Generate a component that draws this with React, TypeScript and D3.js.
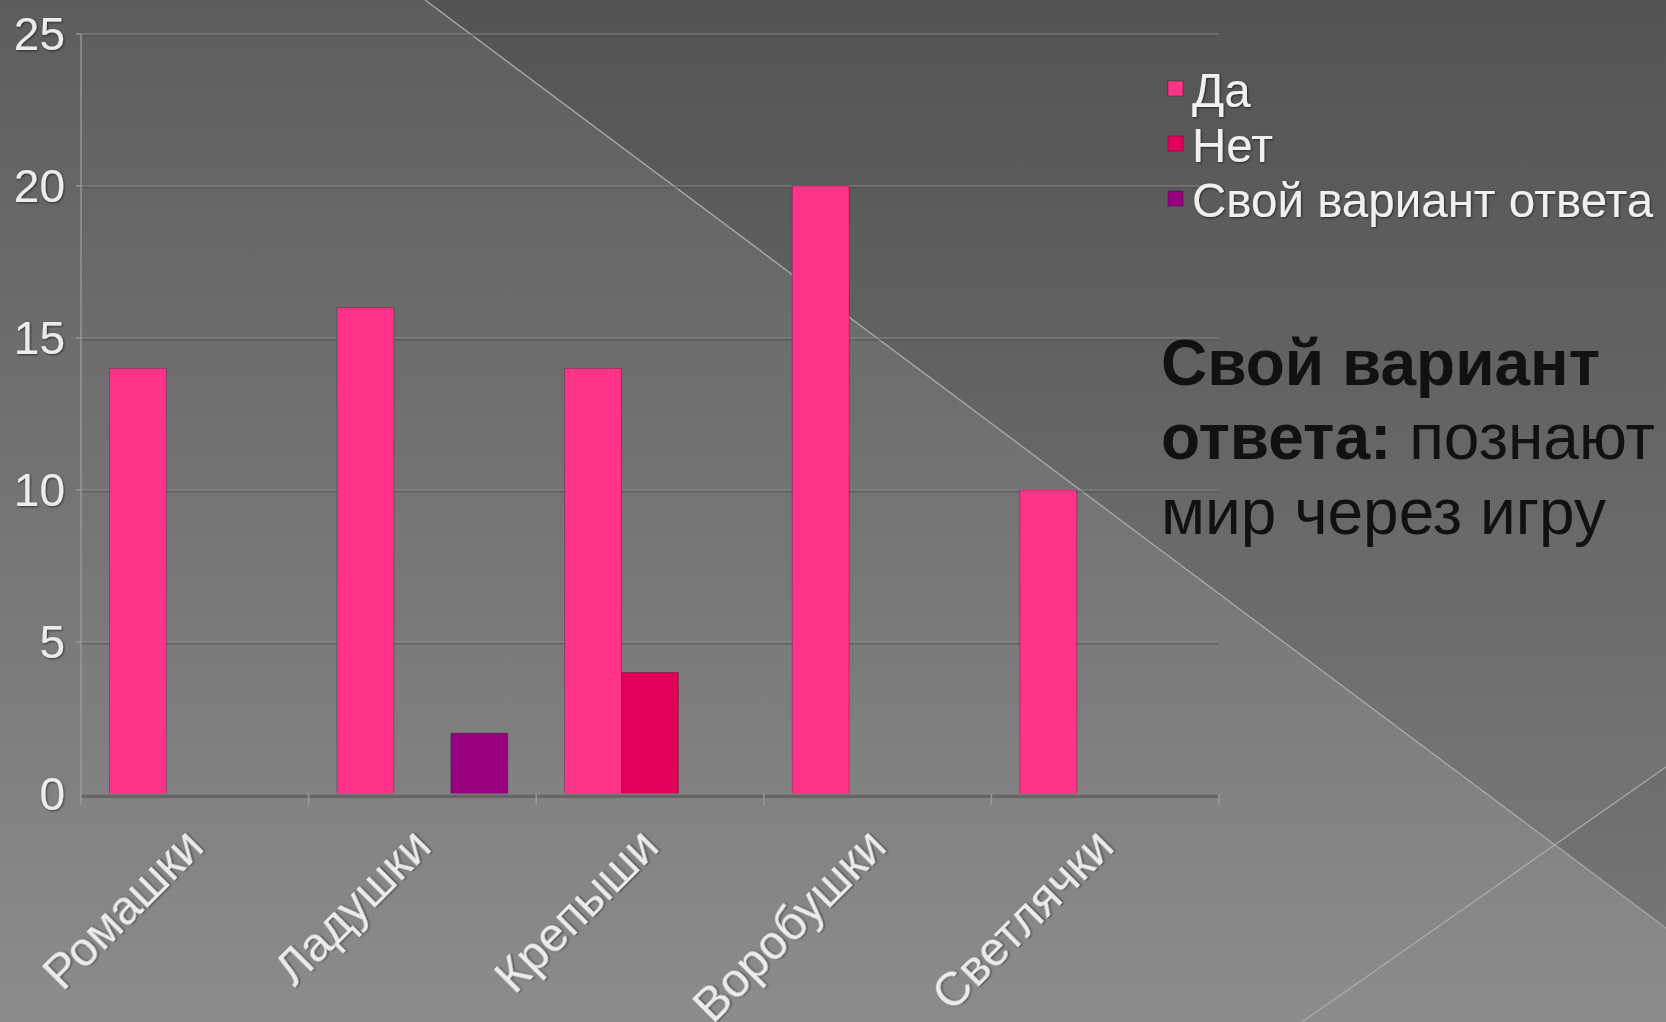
import React from 'react';
import * as d3 from 'd3';

const categories = ['Ромашки', 'Ладушки', 'Крепыши', 'Воробушки', 'Светлячки'];
const seriesNames = ['Да', 'Нет', 'Свой вариант ответа'];
const yesValues = [14, 16, 14, 20, 10];
const noValues = [0, 0, 4, 0, 0];
const ownValues = [0, 2, 0, 0, 0];
const seriesColors = ['#ff3388', '#e2005a', '#990080'];
const yTicks = [0, 5, 10, 15, 20, 25];

const W = 1666;
const H = 1022;
const plot = { left: 81, right: 1219, top: 34, bottom: 794 };
const font = '"Liberation Sans", Arial, sans-serif';

export default function App() {
  const seriesValues = [yesValues, noValues, ownValues];

  const x = d3.scaleBand<string>().domain(categories).range([plot.left, plot.right]).padding(0);
  const xSub = d3
    .scaleBand<number>()
    .domain(d3.range(seriesNames.length))
    .range([0, x.bandwidth()])
    .paddingInner(0)
    .paddingOuter(0.5);
  const y = d3.scaleLinear().domain([0, 25]).range([plot.bottom, plot.top]);

  const tickEdges = categories.map((c) => x(c) as number).concat(plot.right);

  return (
    <svg
      width={W}
      height={H}
      style={{ position: 'absolute', left: 0, top: 0, display: 'block' }}
      fontFamily={font}
    >
      <defs>
        <linearGradient id="bg" x1="0" y1="0" x2="0" y2="1">
          <stop offset="0" stopColor="#5d5d5d" />
          <stop offset="1" stopColor="#8c8c8c" />
        </linearGradient>
        <filter id="shadow" x="-10%" y="-10%" width="120%" height="120%">
          <feDropShadow dx="1" dy="1" stdDeviation="1.2" floodColor="#000" floodOpacity="0.55" />
        </filter>
      </defs>

      {/* background */}
      <rect x={0} y={0} width={W} height={H} fill="url(#bg)" />
      <polygon points="425,0 1666,0 1666,928" fill="#000" opacity={0.1} />
      <polygon points="1556,844 1666,767 1666,928" fill="#000" opacity={0.04} />
      <line x1={425} y1={0} x2={1666} y2={928} stroke="#a8a8a8" strokeWidth={1.4} />
      <line x1={1302} y1={1022} x2={1666} y2={767} stroke="#a8a8a8" strokeWidth={1.4} />

      {/* grid */}
      {yTicks
        .filter((t) => t > 0)
        .map((t) => (
          <g key={t}>
            <line x1={plot.left} x2={plot.right} y1={y(t) + 1.5} y2={y(t) + 1.5} stroke="#4a4a4a" strokeOpacity={0.45} strokeWidth={2} />
            <line x1={plot.left} x2={plot.right} y1={y(t)} y2={y(t)} stroke="#9a9a9a" strokeOpacity={0.7} strokeWidth={1.2} />
            <line x1={plot.left - 5} x2={plot.left} y1={y(t)} y2={y(t)} stroke="#a0a0a0" strokeWidth={1.2} />
          </g>
        ))}

      {/* y axis */}
      <line x1={plot.left} x2={plot.left} y1={plot.top} y2={plot.bottom} stroke="#a0a0a0" strokeWidth={1.2} />
      {yTicks.map((t) => (
        <text
          key={t}
          x={65}
          y={y(t) + 16}
          textAnchor="end"
          fontSize={46}
          fill="#ececec"
          filter="url(#shadow)"
        >
          {t}
        </text>
      ))}

      {/* bars */}
      {seriesValues.map((vals, si) =>
        vals.map((v, ci) => (
          <rect
            key={`${si}-${ci}`}
            x={(x(categories[ci]) as number) + (xSub(si) as number)}
            y={y(v)}
            width={xSub.bandwidth()}
            height={y(0) - y(v)}
            fill={seriesColors[si]}
            stroke="#000"
            strokeOpacity={0.25}
            strokeWidth={1}
          />
        ))
      )}

      {/* x axis */}
      <line x1={plot.left} x2={plot.right} y1={plot.bottom + 2} y2={plot.bottom + 2} stroke="#5e5e5e" strokeOpacity={0.8} strokeWidth={4} />
      <line x1={plot.left} x2={plot.right} y1={plot.bottom} y2={plot.bottom} stroke="#8c8c8c" strokeWidth={1} />
      {tickEdges.map((e, i) => (
        <line key={i} x1={e} x2={e} y1={plot.bottom} y2={plot.bottom + 11} stroke="#9a9a9a" strokeWidth={1.5} />
      ))}
      {categories.map((c) => {
        const cx = (x(c) as number) + x.bandwidth() / 2;
        return (
          <text
            key={c}
            transform={`translate(${cx + 11},${plot.bottom + 55}) rotate(-45)`}
            textAnchor="end"
            fontSize={48}
            fill="#ececec"
            filter="url(#shadow)"
          >
            {c}
          </text>
        );
      })}

      {/* legend */}
      {seriesNames.map((name, i) => (
        <g key={name} transform={`translate(1168,${107 + i * 55})`}>
          <rect x={0} y={-26} width={15} height={15} fill={seriesColors[i]} stroke="#000" strokeOpacity={0.3} />
          <text x={24} y={0} fontSize={47.5} fill="#f0f0f0" filter="url(#shadow)">
            {name}
          </text>
        </g>
      ))}

      {/* annotation */}
      <g fill="#111" fontSize={64}>
        <text x={1161} y={385} fontWeight="bold">Свой вариант</text>
        <text x={1161} y={459}>
          <tspan fontWeight="bold">ответа:</tspan>
          <tspan> познают</tspan>
        </text>
        <text x={1161} y={534}>мир через игру</text>
      </g>
    </svg>
  );
}
